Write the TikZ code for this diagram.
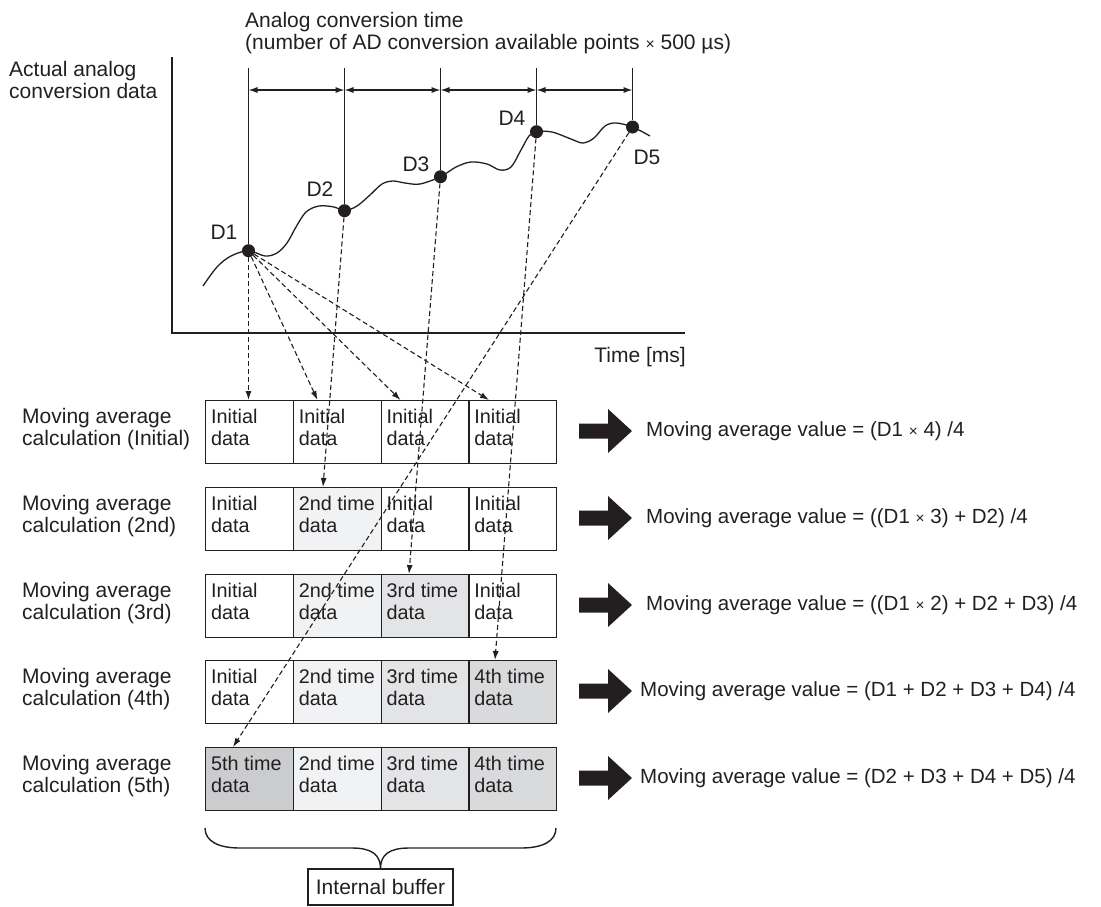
\documentclass[tikz,border=0pt]{standalone}
\usepackage{fontspec}
\setmainfont{Liberation Sans}
\usetikzlibrary{arrows.meta,calc}
\definecolor{ink}{HTML}{231F20}
\definecolor{fa}{HTML}{F1F2F3}
\definecolor{fb}{HTML}{E3E4E6}
\definecolor{fc}{HTML}{D9DADC}
\definecolor{fd}{HTML}{CBCCCE}
\newcommand\mystrut{\rule{0pt}{15pt}}
\newcommand\smalltimes{\scalebox{0.75}{×}}
\begin{document}
\begin{tikzpicture}[x=1pt,y=-1pt,
  >={Latex[length=9pt,width=6pt]},
  txt/.style={inner sep=0pt, anchor=north west, align=left, text=ink, font=\fontsize{21}{22.4}\selectfont},
  celltxt/.style={inner sep=0pt, anchor=north west, align=left, text=ink, font=\fontsize{19.8}{22.4}\selectfont},
  plain/.style={inner sep=0pt, text=ink, font=\fontsize{21}{22.4}\selectfont},
  formula/.style={inner sep=0pt, text=ink, anchor=base west, font=\fontsize{20.5}{22.4}\selectfont},
  cell/.style={draw=ink, line width=1.3pt, minimum width=87.75pt, minimum height=63pt, inner sep=0pt, anchor=north west},
  dot/.style={circle, fill=ink, inner sep=0pt, minimum size=13pt},
  solidline/.style={draw=ink, line width=1.4pt},
  dimline/.style={draw=ink, line width=1.1pt, <->},
  dashline/.style={draw=ink, line width=1.1pt, dash pattern=on 5pt off 3pt, ->},
  bigarrow/.style={fill=ink}
]
\useasboundingbox (0,0) rectangle (1101,906);

% ---- axes ----
\coordinate (ytop) at (172,57);
\coordinate (org) at (172,333);
\coordinate (xend) at (685,333);
\draw[solidline] (ytop) -- (org) -- (xend);

\node[txt] (ylab) at (9,61) {\mystrut Actual analog\\conversion data};
\node[plain, anchor=base east] (tlab) at (686,362) {Time [ms]};
\node[txt] (title) at (245,12) {\mystrut Analog conversion time\\(number of AD conversion available points \smalltimes\ 500 µs)};

% ---- curve ----
\draw[ink, line width=1.3pt] plot[smooth, tension=0.55] coordinates {
(203,286) (217,267) (231,256) (248.5,250.7) (265,256) (277,253) (287,243) (296,227) (306,212) (319,206) (334,207) (344.5,210.7) (357,206) (370,195) (382,184) (393,181) (405,183) (420,184) (440.5,176.7) (456,167) (471,162) (487,164) (500,170) (511,167) (521,150) (529,136) (536.5,131.7) (552,132) (571,139) (583,143) (594,138) (605,126) (616,123) (632.5,127) (650,136)};

% ---- data points ----
\node[dot] (d1) at (248.5,250.7) {};
\node[dot] (d2) at (344.5,210.7) {};
\node[dot] (d3) at (440.5,176.7) {};
\node[dot] (d4) at (536.5,131.7) {};
\node[dot] (d5) at (632.5,127) {};
\node[plain] (l1) at (224,232) {D1};
\node[plain] (l2) at (320,189) {D2};
\node[plain] (l3) at (416,164) {D3};
\node[plain] (l4) at (512,118) {D4};
\node[plain] (l5) at (647,157) {D5};

% ---- vertical time lines and dimension arrows ----
\foreach \i/\x in {1/248.5,2/344.5,3/440.5,4/536.5,5/632.5}{
  \coordinate (v\i) at (\x,68);
  \coordinate (h\i) at (\x,90);
  \draw[solidline] (v\i) -- (d\i);
}
\draw[dimline] (h1) -- (h2);
\draw[dimline] (h2) -- (h3);
\draw[dimline] (h3) -- (h4);
\draw[dimline] (h4) -- (h5);

% ---- buffer cells ----
\foreach \r/\c/\f/\ta/\tb in {
 1/1/white/Initial/data, 1/2/white/Initial/data, 1/3/white/Initial/data, 1/4/white/Initial/data,
 2/1/white/Initial/data, 2/2/fa/2nd time/data, 2/3/white/Initial/data, 2/4/white/Initial/data,
 3/1/white/Initial/data, 3/2/fa/2nd time/data, 3/3/fb/3rd time/data, 3/4/white/Initial/data,
 4/1/white/Initial/data, 4/2/fa/2nd time/data, 4/3/fb/3rd time/data, 4/4/fc/4th time/data,
 5/1/fd/5th time/data, 5/2/fa/2nd time/data, 5/3/fb/3rd time/data, 5/4/fc/4th time/data}{
  \node[cell, fill=\f] (c\r\c) at ({205+(\c-1)*87.75},{400+round((\r-1)*86.75)}) {};
  \node[celltxt] (t\r\c) at ($(c\r\c.north west)+(6,8)$) {\mystrut\ta\\\tb};
}

% ---- row labels ----
\node[txt] (rl1) at (22,408) {\mystrut Moving average\\calculation (Initial)};
\node[txt] (rl2) at (22,495) {\mystrut Moving average\\calculation (2nd)};
\node[txt] (rl3) at (22,582) {\mystrut Moving average\\calculation (3rd)};
\node[txt] (rl4) at (22,668) {\mystrut Moving average\\calculation (4th)};
\node[txt] (rl5) at (22,755) {\mystrut Moving average\\calculation (5th)};

% ---- big arrows and formulas ----
\foreach \r in {1,...,5}{
  \coordinate (ar\r) at (579,{400+round((\r-1)*86.75)+31});
  \fill[bigarrow] (ar\r) ++(0,-7.5) -- ++(29,0) -- ++(0,-14.5) -- ++(24,22) -- ++(-24,22) -- ++(0,-14.5) -- ++(-29,0) -- cycle;
}
\node[formula] (f1) at (646,436) {Moving average value = (D1 \smalltimes\ 4) /4};
\node[formula] (f2) at (646,523) {Moving average value = ((D1 \smalltimes\ 3) + D2) /4};
\node[formula] (f3) at (646,610) {Moving average value = ((D1 \smalltimes\ 2) + D2 + D3) /4};
\node[formula] (f4) at (640,696) {Moving average value = (D1 + D2 + D3 + D4) /4};
\node[formula] (f5) at (640,783) {Moving average value = (D2 + D3 + D4 + D5) /4};

% ---- dashed transfer arrows ----
\coordinate (e11) at (248.5,400);
\coordinate (e12) at (317.5,400);
\coordinate (e13) at (400.5,400);
\coordinate (e14) at (489,400);
\coordinate (e22) at (323,487);
\coordinate (e33) at (409,574);
\coordinate (e44) at (495,660);
\coordinate (e51) at (233,747);
\draw[dashline] (d1) -- (e11);
\draw[dashline] (d1) -- (e12);
\draw[dashline] (d1) -- (e13);
\draw[dashline] (d1) -- (e14);
\draw[dashline] (d2) -- (e22);
\draw[dashline] (d3) -- (e33);
\draw[dashline] (d4) -- (e44);
\draw[dashline] (d5) -- (e51);

% ---- internal buffer ----
\node[draw=ink, line width=1.3pt, minimum width=145pt, minimum height=36pt, inner sep=0pt, text=ink, font=\fontsize{21}{22.4}\selectfont] (ib) at (380.5,887) {Internal buffer};
\coordinate (bl) at (205,828);
\coordinate (br) at (556,828);
\draw[solidline] (bl) .. controls (205,841) and (218,848) .. (240,848) -- (352,848)
  .. controls (372,848) and (380.5,855) .. (ib.north)
  .. controls (380.5,855) and (389,848) .. (409,848) -- (521,848)
  .. controls (543,848) and (556,841) .. (br);
\end{tikzpicture}
\end{document}
